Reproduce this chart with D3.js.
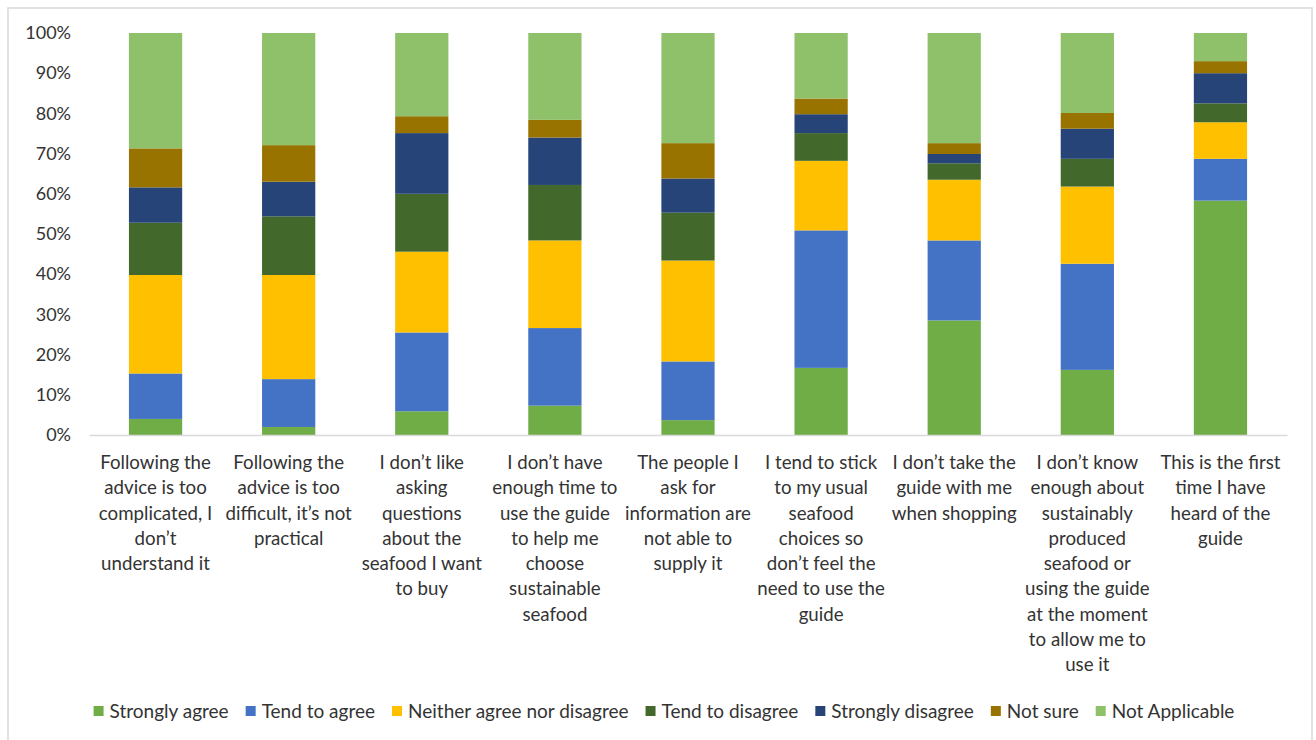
<!DOCTYPE html>
<html>
<head>
<meta charset="utf-8">
<script src="https://cdn.jsdelivr.net/npm/d3@7"></script>
<style>
  html, body { margin: 0; padding: 0; background: #fff; }
  svg { display: block; font-family: Lato, "Open Sans", sans-serif; }
</style>
</head>
<body>
<svg id="chart" width="1316" height="740"></svg>
<script>
// Survey statements (line breaks as shown under each bar)
const categories = [
  "Following the\nadvice is too\ncomplicated, I\ndon\u2019t\nunderstand it",
  "Following the\nadvice is too\ndifficult, it\u2019s not\npractical",
  "I don\u2019t like\nasking\nquestions\nabout the\nseafood I want\nto buy",
  "I don\u2019t have\nenough time to\nuse the guide\nto help me\nchoose\nsustainable\nseafood",
  "The people I\nask for\ninformation are\nnot able to\nsupply it",
  "I tend to stick\nto my usual\nseafood\nchoices so\ndon\u2019t feel the\nneed to use the\nguide",
  "I don\u2019t take the\nguide with me\nwhen shopping",
  "I don\u2019t know\nenough about\nsustainably\nproduced\nseafood or\nusing the guide\nat the moment\nto allow me to\nuse it",
  "This is the first\ntime I have\nheard of the\nguide"
];

// Response shares (%) per statement
const stronglyAgree   = [4.0, 2.0, 5.9, 7.3, 3.7, 16.7, 28.5, 16.2, 58.3];
const tendToAgree     = [11.3, 11.9, 19.6, 19.3, 14.6, 34.2, 19.9, 26.4, 10.4];
const neither         = [24.5, 25.9, 20.1, 21.8, 25.1, 17.3, 15.1, 19.2, 9.1];
const tendToDisagree  = [13.0, 14.6, 14.4, 13.8, 11.9, 6.9, 4.1, 6.9, 4.7];
const stronglyDisagree= [8.8, 8.6, 15.1, 11.8, 8.5, 4.7, 2.3, 7.5, 7.5];
const notSure         = [9.7, 9.1, 4.2, 4.4, 8.8, 3.9, 2.7, 3.9, 3.0];
const notApplicable   = [28.7, 27.9, 20.7, 21.6, 27.4, 16.3, 27.4, 19.9, 7.0];

const seriesNames = ["Strongly agree", "Tend to agree", "Neither agree nor disagree",
  "Tend to disagree", "Strongly disagree", "Not sure", "Not Applicable"];
const seriesValues = [stronglyAgree, tendToAgree, neither, tendToDisagree,
  stronglyDisagree, notSure, notApplicable];
const seriesColors = ["#70AD47", "#4472C4", "#FFC000", "#43682B", "#264478", "#997300", "#8FC16B"];

const yTicks = [0, 10, 20, 30, 40, 50, 60, 70, 80, 90, 100];

const svg = d3.select("#chart");
const textColor = "#333333";

// Outer chart frame
svg.append("rect")
  .attr("x", 8).attr("y", 8)
  .attr("width", 1304).attr("height", 745)
  .attr("fill", "#fff")
  .attr("stroke", "#d9d9d9").attr("stroke-width", 1.5);

// Table for the stack layout
const rows = categories.map((c, i) => {
  const r = { category: c };
  seriesNames.forEach((s, k) => { r[s] = seriesValues[k][i]; });
  return r;
});
const stacked = d3.stack().keys(seriesNames)(rows);

const x = d3.scaleBand()
  .domain(categories)
  .range([89, 1287])
  .paddingInner(0.6)
  .paddingOuter(0.3);

const y = d3.scaleLinear().domain([0, 100]).range([435, 33]);

// Y axis labels
const yAxis = svg.append("g")
  .attr("transform", "translate(71,0)")
  .call(d3.axisLeft(y).tickValues(yTicks).tickSize(0).tickPadding(0)
    .tickFormat(d => d + "%"));
yAxis.select(".domain").remove();
yAxis.selectAll("text")
  .attr("fill", textColor)
  .style("font-size", "18px")
  .style("font-family", "Lato, sans-serif");

// Bars
svg.append("g")
  .selectAll("g")
  .data(stacked)
  .join("g")
  .attr("fill", (d, i) => seriesColors[i])
  .selectAll("rect")
  .data(d => d)
  .join("rect")
  .attr("x", d => x(d.data.category))
  .attr("width", x.bandwidth())
  .attr("y", d => y(d[1]))
  .attr("height", d => y(d[0]) - y(d[1]));

// X axis with multi-line category labels
const xAxis = svg.append("g")
  .attr("transform", "translate(0,435)")
  .call(d3.axisBottom(x).tickSize(0).tickPadding(0).tickSizeOuter(0));
xAxis.select(".domain")
  .attr("stroke", "#d9d9d9").attr("stroke-width", 1.5);
xAxis.selectAll(".tick text").each(function(d) {
  const t = d3.select(this);
  t.text(null)
    .attr("y", 0).attr("dy", null)
    .attr("fill", textColor)
    .style("font-size", "18.7px")
    .style("font-family", "Lato, sans-serif");
  d.split("\n").forEach((line, i) => {
    t.append("tspan")
      .attr("x", 0)
      .attr("y", 34 + i * 25.25)
      .text(line);
  });
});

// Legend, centred under the plot
const legend = svg.append("g").attr("class", "legend");
const items = legend.selectAll("g")
  .data(seriesNames)
  .join("g");
items.append("rect")
  .attr("width", 10).attr("height", 10)
  .attr("y", -5)
  .attr("fill", (d, i) => seriesColors[i]);
items.append("text")
  .attr("x", 16)
  .attr("dy", "0.35em")
  .attr("fill", textColor)
  .style("font-size", "19px")
  .text(d => d);
let offset = 0;
items.each(function() {
  const g = d3.select(this);
  g.attr("transform", `translate(${offset},0)`);
  offset += this.getBBox().width + 17;
});
const totalWidth = offset - 17;
legend.attr("transform", `translate(${664 - totalWidth / 2},711)`);
</script>
</body>
</html>
